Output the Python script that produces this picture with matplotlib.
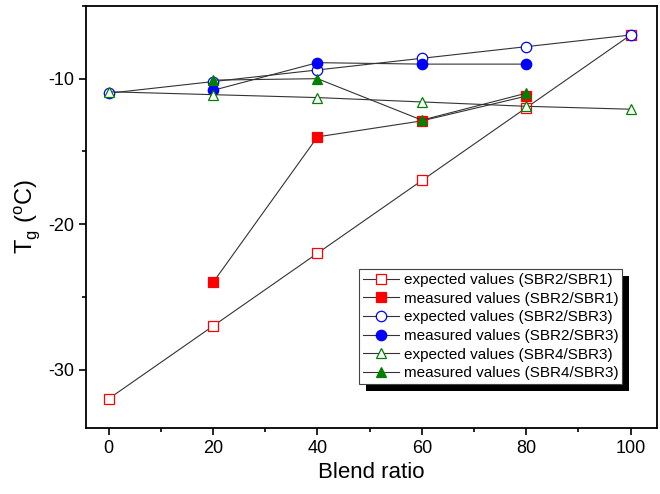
import numpy as np
from matplotlib import pyplot as plt
import matplotlib.patheffects as pe
from matplotlib.ticker import MultipleLocator

plt.rcParams['font.family'] = ['Liberation Sans', 'DejaVu Sans']
plt.rcParams['mathtext.fontset'] = 'custom'
plt.rcParams['mathtext.rm'] = 'Liberation Sans'
plt.rcParams['axes.unicode_minus'] = False

# blend ratio positions
ratio_all = [0, 20, 40, 60, 80, 100]
ratio_meas = [20, 40, 60, 80]

# Tg values
exp_21 = [-32, -27, -22, -17, -12, -7]
meas_21 = [-24, -14, -12.9, -11.2]
exp_23 = [-11, -10.2, -9.4, -8.6, -7.8, -7]
meas_23 = [-10.8, -8.9, -9.0, -9.0]
exp_43 = [-10.9, -11.1, -11.3, -11.6, -11.9, -12.1]
meas_43 = [-10.1, -10.0, -12.85, -11.0]

labels = ["expected values (SBR2/SBR1)", "measured values (SBR2/SBR1)",
          "expected values (SBR2/SBR3)", "measured values (SBR2/SBR3)",
          "expected values (SBR4/SBR3)", "measured values (SBR4/SBR3)"]

fig = plt.figure(figsize=(6.6, 4.94), dpi=100)
ax = fig.add_axes([0.130, 0.134, 0.865, 0.854])

lkw = dict(color='#333333', lw=0.8, ms=7.5, mew=0.9)
ax.plot(ratio_all, exp_21, marker='s', mfc='white', mec='red', label=labels[0], **lkw)
ax.plot(ratio_meas, meas_21, marker='s', mfc='red', mec='red', label=labels[1], **lkw)
ax.plot(ratio_all, exp_23, marker='o', mfc='white', mec='blue', label=labels[2], **lkw)
ax.plot(ratio_meas, meas_23, marker='o', mfc='blue', mec='blue', label=labels[3], **lkw)
ax.plot(ratio_all, exp_43, marker='^', mfc='white', mec='green', label=labels[4], **lkw)
ax.plot(ratio_meas, meas_43, marker='^', mfc='green', mec='green', label=labels[5], **lkw)

ax.set_xlim(-4.4, 105)
ax.set_ylim(-34, -5)
ax.xaxis.set_major_locator(MultipleLocator(20))
ax.xaxis.set_minor_locator(MultipleLocator(10))
ax.yaxis.set_major_locator(MultipleLocator(10))
ax.yaxis.set_minor_locator(MultipleLocator(5))
ax.tick_params(which='both', direction='out', width=1.2, labelsize=13, top=False, right=False)
ax.tick_params(which='major', length=5)
ax.tick_params(which='minor', length=3)
for s in ax.spines.values():
    s.set_linewidth(1.3)

ax.set_xlabel('Blend ratio', fontsize=16)
ax.set_ylabel(r'T$_\mathregular{g}$ ($^\mathregular{o}$C)', fontsize=17)

leg = ax.legend(loc='lower right', bbox_to_anchor=(0.94, 0.104), fontsize=11,
                fancybox=False, framealpha=1, edgecolor='#444444',
                borderpad=0.25, labelspacing=0.3, handlelength=2.4,
                handletextpad=0.3, borderaxespad=0)
frame = leg.get_frame()
frame.set_linewidth(0.8)
frame.set_path_effects([pe.SimplePatchShadow(offset=(5, -5), shadow_rgbFace='black', alpha=1),
                        pe.Normal()])

fig.savefig('out.png', dpi=100)
